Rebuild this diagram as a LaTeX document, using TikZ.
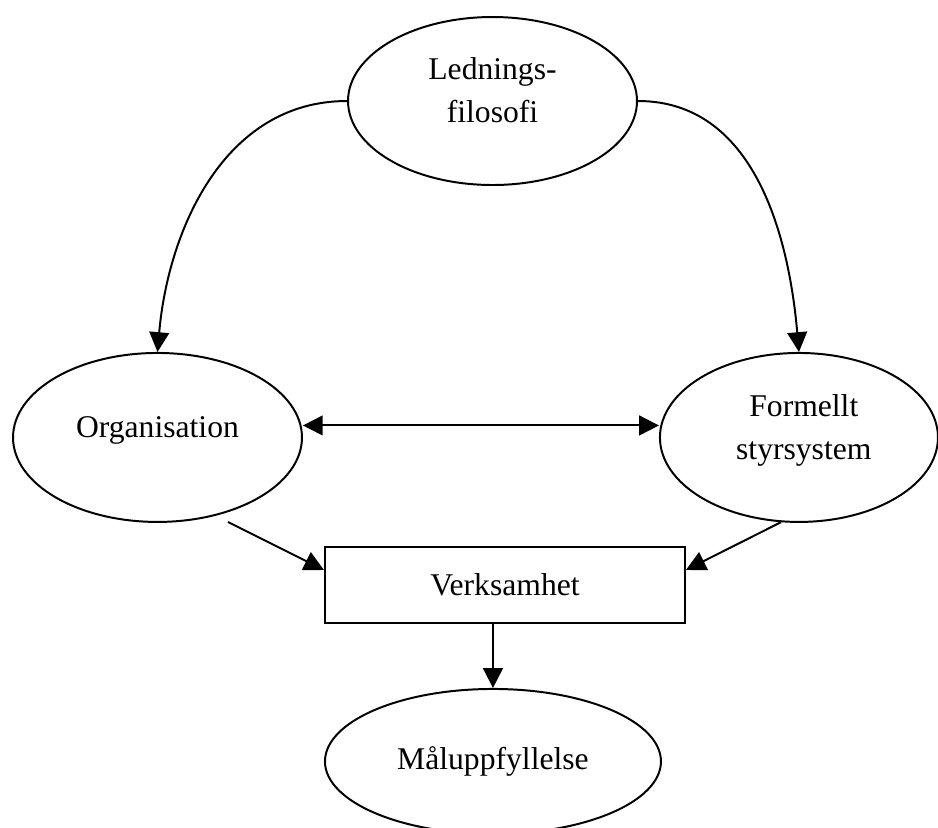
\documentclass[tikz,border=0pt]{standalone}
\usepackage{fontspec}
\setmainfont{Liberation Serif}
\usetikzlibrary{arrows.meta,positioning,shapes.geometric}
\tikzset{
  blob/.style={ellipse, draw=black, line width=0.75pt, inner sep=0pt, align=center, font=\fontsize{12pt}{16.3pt}\selectfont},
  lifted/.style={text depth=8pt},
  actbox/.style={rectangle, draw=black, line width=0.75pt, minimum width=4.8cm, minimum height=1.013cm, inner sep=0pt, font=\fontsize{12pt}{16pt}\selectfont},
  flow/.style={-{Triangle[length=7.5pt,width=7.5pt]}, line width=0.75pt},
  twoway/.style={{Triangle[length=7.5pt,width=7.5pt]}-{Triangle[length=7.5pt,width=7.5pt]}, line width=0.75pt}
}

\begin{document}
\begin{tikzpicture}
  \useasboundingbox (0,0) rectangle (12.507,-11.04);
  \clip (0,0) rectangle (12.507,-11.04);
  % ellipses and box
  \node[blob,lifted,minimum width=3.853cm,minimum height=2.24cm] (lead) at (6.567,-1.347) {Lednings-\\filosofi};
  \node[blob,lifted,minimum width=3.853cm,minimum height=2.253cm] (org) at (2.10,-5.833) {Organisation};
  \node[blob,lifted,minimum width=3.707cm,minimum height=2.253cm] (form) at (10.653,-5.833) {\hspace{0.13cm}Formellt\\\hspace{0.13cm}styrsystem};
  \node[actbox] (verk) at (6.733,-7.8) {Verksamhet};
  \node[blob,minimum width=4.48cm,minimum height=1.933cm] (mal) at (6.573,-10.153) {Måluppfyllelse};

  % connectors
  \draw[flow] (lead.west) to[out=180,in=85] (org.north);
  \draw[flow] (lead.east) to[out=0,in=95] (form.north);
  \draw[twoway] ([yshift=0.16cm]org.east) -- ([yshift=0.16cm]form.west);
  \coordinate (orgout) at (3.04,-6.96);
  \draw[flow] (orgout) -- ([yshift=0.2cm]verk.west);
  \draw[flow] (form.258) -- ([yshift=0.2cm]verk.east);
  \draw[flow] (verk.south -| mal.north) -- (mal.north);
\end{tikzpicture}
\end{document}
